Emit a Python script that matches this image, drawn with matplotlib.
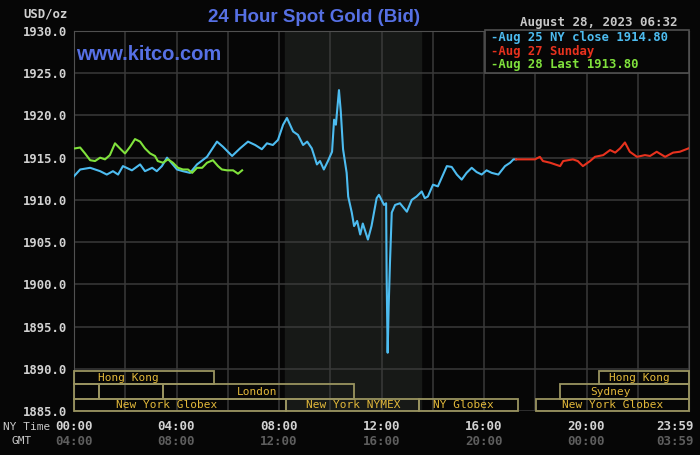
import matplotlib
matplotlib.use("Agg")
import matplotlib.pyplot as plt
from matplotlib.patches import Rectangle
from matplotlib.transforms import blended_transform_factory

# hours after 00:00 New York time, bid price in USD/oz
aug25_hours = [0.0, 0.24, 0.63, 1.02, 1.28, 1.52, 1.72, 1.91, 2.26, 2.58, 2.77, 3.05,
               3.23, 3.43, 3.55, 3.63, 4.02, 4.25, 4.53, 4.80, 5.19, 5.58, 5.81, 6.17,
               6.48, 6.79, 7.07, 7.33, 7.53, 7.76, 7.96, 8.16, 8.31, 8.55, 8.74, 8.94,
               9.10, 9.28, 9.48, 9.60, 9.75, 9.91, 10.07, 10.15, 10.22, 10.34, 10.41,
               10.50, 10.64, 10.70, 10.84, 10.93, 11.05, 11.17, 11.27, 11.47, 11.61,
               11.81, 11.90, 12.10, 12.18, 12.20, 12.24, 12.28, 12.33, 12.40, 12.53,
               12.72, 12.99, 13.18, 13.37, 13.57, 13.69, 13.81, 14.01, 14.20, 14.55,
               14.74, 14.94, 15.13, 15.32, 15.52, 15.71, 15.91, 16.10, 16.30, 16.56,
               16.82, 17.02, 17.15, 17.25]
aug25_price = [1912.8, 1913.6, 1913.8, 1913.4, 1913.0, 1913.4, 1913.0, 1914.0, 1913.5,
               1914.2, 1913.4, 1913.8, 1913.4, 1914.0, 1914.6, 1915.0, 1913.6, 1913.4,
               1913.2, 1914.2, 1915.1, 1916.9, 1916.3, 1915.2, 1916.1, 1916.9, 1916.5,
               1916.0, 1916.7, 1916.5, 1917.1, 1918.9, 1919.7, 1918.1, 1917.7, 1916.5,
               1916.9, 1916.1, 1914.2, 1914.6, 1913.6, 1914.6, 1915.7, 1919.5, 1918.9,
               1923.0, 1920.5, 1916.0, 1913.2, 1910.4, 1908.5, 1906.9, 1907.5, 1905.9,
               1907.2, 1905.3, 1906.9, 1910.2, 1910.6, 1909.4, 1909.6, 1901.0, 1891.9,
               1897.4, 1902.5, 1908.5, 1909.4, 1909.6, 1908.6, 1910.0, 1910.4, 1911.0,
               1910.2, 1910.4, 1911.8, 1911.6, 1914.0, 1913.9, 1913.0, 1912.4, 1913.2,
               1913.8, 1913.3, 1913.0, 1913.5, 1913.2, 1913.0, 1914.0, 1914.4, 1914.8,
               1914.8]

sunday_hours = [17.25, 17.99, 18.18, 18.30, 18.58, 18.97, 19.09, 19.47, 19.66, 19.86,
                20.14, 20.33, 20.65, 20.92, 21.12, 21.31, 21.50, 21.69, 21.97, 22.28,
                22.48, 22.74, 23.07, 23.38, 23.64, 23.98]
sunday_price = [1914.8, 1914.8, 1915.1, 1914.6, 1914.4, 1914.0, 1914.6, 1914.8, 1914.6,
                1914.0, 1914.6, 1915.1, 1915.3, 1915.9, 1915.6, 1916.1, 1916.8, 1915.7,
                1915.1, 1915.3, 1915.2, 1915.7, 1915.1, 1915.6, 1915.7, 1916.1]

aug28_hours = [0.04, 0.24, 0.43, 0.63, 0.82, 1.02, 1.21, 1.40, 1.60, 1.79, 1.99, 2.19,
               2.38, 2.58, 2.77, 2.97, 3.16, 3.27, 3.47, 3.67, 3.86, 4.06, 4.25, 4.45,
               4.61, 4.80, 5.00, 5.19, 5.42, 5.62, 5.77, 5.97, 6.21, 6.40, 6.56]
aug28_price = [1916.1, 1916.2, 1915.5, 1914.7, 1914.6, 1915.0, 1914.8, 1915.3, 1916.7,
               1916.1, 1915.5, 1916.3, 1917.2, 1916.9, 1916.1, 1915.5, 1915.2, 1914.6,
               1914.4, 1914.8, 1914.4, 1913.8, 1913.6, 1913.6, 1913.2, 1913.8, 1913.8,
               1914.4, 1914.7, 1914.0, 1913.6, 1913.5, 1913.5, 1913.1, 1913.5]

legend_labels = ["-Aug 25 NY close 1914.80", "-Aug 27 Sunday", "-Aug 28 Last 1913.80"]

ny_ticks = [0, 4, 8, 12, 16, 20, 23.45]
ny_labels = ["00:00", "04:00", "08:00", "12:00", "16:00", "20:00", "23:59"]
gmt_labels = ["04:00", "08:00", "12:00", "16:00", "20:00", "00:00", "03:59"]
price_ticks = [1885, 1890, 1895, 1900, 1905, 1910, 1915, 1920, 1925, 1930]

# market sessions: name, row (0 = top), start hour, end hour, where the label sits
sessions = [
    ("Hong Kong", 0, 0.0, 5.46, 2.11),
    ("", 1, 0.0, 0.96, 0.5),
    ("", 1, 0.96, 3.47, 2.2),
    ("London", 1, 3.47, 10.93, 7.14),
    ("New York Globex", 2, 0.0, 8.27, 3.63),
    ("New York NYMEX", 2, 8.27, 13.46, 10.89),
    ("NY Globex", 2, 13.46, 17.32, 15.18),
    ("New York Globex", 2, 18.02, 24.0, 21.0),
    ("Sydney", 1, 18.97, 24.0, 20.95),
    ("Hong Kong", 0, 20.49, 24.0, 22.05),
]
row_bounds = [(1888.15, 1889.75), (1886.45, 1888.15), (1885.0, 1886.45)]
nymex_open, nymex_close = 8.25, 13.54

BG = "#060606"
GRID = "#3a3a3a"
TITLE_BLUE = "#5670e4"
LINE_BLUE = "#4dbcf0"
LINE_RED = "#e8321e"
LINE_GREEN = "#80e23c"
MONO = "DejaVu Sans Mono"
W, H = 700, 455


def fx(x):
    return x / W


def fy(y):
    return 1 - y / H


fig = plt.figure(figsize=(7, 4.55), dpi=100, facecolor=BG)
ax = fig.add_axes([fx(74), fy(411), fx(689 - 74), (411 - 31) / H])
ax.set_facecolor(BG)
ax.set_xlim(0, 24)
ax.set_ylim(1885, 1930)

ax.axvspan(nymex_open, nymex_close, color="#171917", zorder=0)
ax.set_xticks(range(0, 25, 2))
ax.set_yticks(price_ticks)
ax.grid(True, color=GRID, lw=1.1, zorder=1)
ax.set_axisbelow(True)
ax.tick_params(length=0, labelbottom=False)
ax.set_yticklabels(["%.1f" % p for p in price_ticks], family=MONO, fontweight="bold",
                   fontsize=8.8, color="#d2d2d2")
ax.tick_params(axis="y", pad=5)
for side in ["left", "top", "right"]:
    ax.spines[side].set_color("#505050")
ax.spines["bottom"].set_visible(False)

# session boxes along the bottom
for name, row, start, end, label_at in sessions:
    lo, hi = row_bounds[row]
    ax.add_patch(Rectangle((start, lo), end - start, hi - lo, fill=False,
                           edgecolor="#9a9460", lw=1.3, zorder=3, clip_on=False))
    if name:
        ax.text(label_at, (lo + hi) / 2, name, family=MONO, fontsize=8,
                color="#e2b83a", ha="center", va="center", zorder=4)

ax.plot(aug25_hours, aug25_price, color=LINE_BLUE, lw=1.5, zorder=5)
ax.plot(sunday_hours, sunday_price, color=LINE_RED, lw=1.5, zorder=5)
ax.plot(aug28_hours, aug28_price, color=LINE_GREEN, lw=1.5, zorder=6)

# time labels under the chart
trans = blended_transform_factory(ax.transData, fig.transFigure)
for t, ny, gmt in zip(ny_ticks, ny_labels, gmt_labels):
    ax.text(t, fy(426.5), ny, transform=trans, family=MONO, fontweight="bold",
            fontsize=9, color="#d2d2d2", ha="center", va="center")
    ax.text(t, fy(441.5), gmt, transform=trans, family=MONO, fontweight="bold",
            fontsize=9, color="#5e5e5e", ha="center", va="center")
fig.text(fx(3), fy(426.5), "NY Time", family=MONO, fontsize=8, color="#c8c8c8",
         ha="left", va="center")
fig.text(fx(12), fy(441.5), "GMT", family=MONO, fontsize=8, color="#c8c8c8",
         ha="left", va="center")

fig.text(fx(68), fy(14), "USD/oz", family=MONO, fontweight="bold", fontsize=8.8,
         color="#d2d2d2", ha="right", va="center")
fig.text(fx(314), fy(17.5), "24 Hour Spot Gold (Bid)", family="Liberation Sans",
         fontweight="bold", fontsize=13.5, color=TITLE_BLUE, ha="center", va="center")
fig.text(fx(76), fy(54), "www.kitco.com", family="Liberation Sans", fontweight="bold",
         fontsize=14.5, color=TITLE_BLUE, ha="left", va="center")
fig.text(fx(677), fy(22.5), "August 28, 2023 06:32", family=MONO, fontweight="bold",
         fontsize=9, color="#c8c8c8", ha="right", va="center")

# legend box in the top right corner
fig.patches.append(Rectangle((fx(485), fy(73)), fx(689 - 485), (73 - 30) / H,
                             transform=fig.transFigure, facecolor=BG,
                             edgecolor="#505050", lw=1.2, zorder=7))
for label, color, yy in zip(legend_labels, [LINE_BLUE, LINE_RED, LINE_GREEN],
                            [37.7, 51.7, 65.0]):
    fig.text(fx(491), fy(yy), label, family=MONO, fontweight="bold", fontsize=8.8,
             color=color, ha="left", va="center", zorder=8)

fig.savefig("out.png", dpi=100, facecolor=BG)
